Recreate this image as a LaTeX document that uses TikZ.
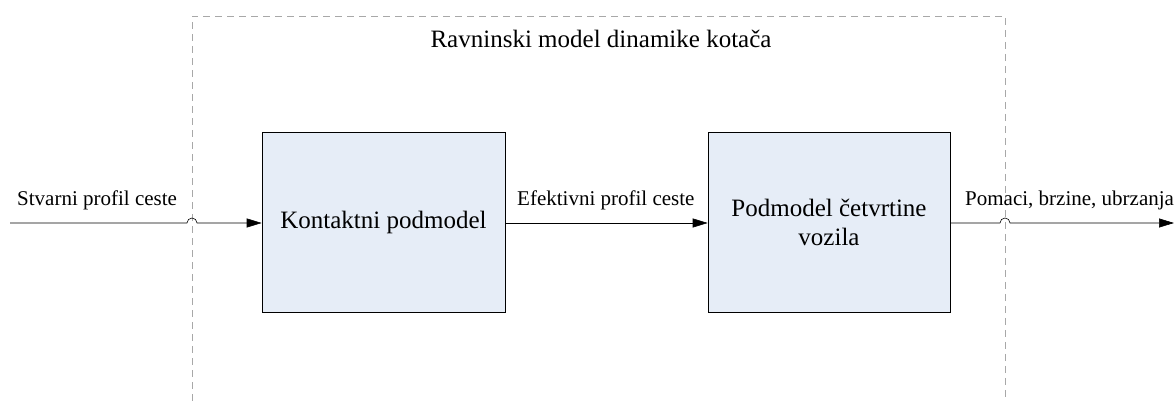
\documentclass[tikz,border=0pt]{standalone}
\usepackage{fontspec}
\setmainfont{Liberation Serif}[Ligatures=TeX]
\usetikzlibrary{arrows.meta}
\definecolor{boxfill}{HTML}{E6EDF7}
\definecolor{framegray}{HTML}{A8A8A8}
\begin{document}
\begin{tikzpicture}[x=1pt,y=1pt,
  blockbox/.style={draw=black, line width=0.6pt, fill=boxfill, minimum height=180pt, inner sep=0pt, align=center, font=\fontsize{25}{29}\selectfont},
  lbl/.style={font=\fontsize{21}{24}\selectfont, inner sep=0pt},
  conn/.style={line width=0.6pt, -{Triangle[length=15pt,width=9pt]}},
  frame/.style={draw=framegray, dashed, dash pattern=on 7pt off 5pt, line width=0.7pt}]
\useasboundingbox (0,0) rectangle (1174,401);
% frame (open at bottom)
\draw[frame] (192,0) -- (192,385) -- (1005,385) -- (1005,0);
\node[font=\fontsize{25}{30}\selectfont, anchor=base] (title) at (601,353) {Ravninski model dinamike kotača};
% blocks
\node[blockbox, minimum width=243pt] (b1) at (383.5,179) {Kontaktni podmodel};
\node[blockbox, minimum width=242pt] (b2) at (829,179) {Podmodel četvrtine\\vozila};
% input
\coordinate (in) at (10,178);
\draw[conn] (in) -- (187,178) arc[start angle=180,end angle=0,radius=5] -- (b1.west |- in);
\node[lbl, anchor=base west] (l1) at (17,195) {Stvarni profil ceste};
% middle
\draw[conn] (b1.east |- in) -- (b2.west |- in);
\node[lbl, anchor=base west] (l2) at (517,195) {Efektivni profil ceste};
% output
\coordinate (out) at (1174,178);
\draw[conn] (b2.east |- in) -- (1000,178) arc[start angle=180,end angle=0,radius=5] -- (out);
\node[lbl, anchor=base west] (l3) at (965,195) {Pomaci, brzine, ubrzanja};
\end{tikzpicture}
\end{document}
